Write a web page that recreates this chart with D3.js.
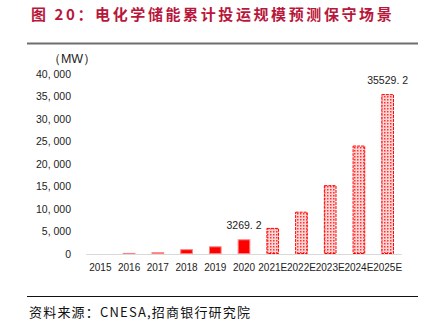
<!DOCTYPE html>
<html>
<head>
<meta charset="utf-8">
<script src="https://cdn.jsdelivr.net/npm/d3@7/dist/d3.min.js"></script>
<style>
  body { margin: 0; background: #fff; }
  svg { display: block; }
</style>
</head>
<body>
<svg id="chart" width="433" height="332"></svg>
<script>
// chart data
const years = ["2015", "2016", "2017", "2018", "2019", "2020", "2021E", "2022E", "2023E", "2024E", "2025E"];
const capacity = [105.5, 243, 389.8, 1072.7, 1709.6, 3269.2, 5800, 9400, 15300, 24100, 35529.2];
const forecast = [false, false, false, false, false, false, true, true, true, true, true];
const yTicks = [0, 5000, 10000, 15000, 20000, 25000, 30000, 35000, 40000];
const labelled = ["2020", "2025E"];

const svg = d3.select("#chart");
const red = "#ff0000";

// pattern for forecast bars
const defs = svg.append("defs");
const pat = defs.append("pattern")
  .attr("id", "dots")
  .attr("patternUnits", "userSpaceOnUse")
  .attr("width", 3)
  .attr("height", 3);
pat.append("rect").attr("width", 3).attr("height", 3).attr("fill", "#ffd6d6");
pat.append("rect").attr("width", 1.5).attr("height", 1.5).attr("fill", "#ff3030");

// title
svg.append("text")
  .attr("x", 31)
  .attr("y", 19.5)
  .attr("fill", "#b8173c")
  .style("font", "bold 15px 'Noto Sans CJK SC'")
  .style("letter-spacing", "2.6px")
  .text("图 20：电化学储能累计投运规模预测保守场景");

svg.append("line")
  .attr("x1", 27).attr("x2", 418)
  .attr("y1", 43.5).attr("y2", 43.5)
  .attr("stroke", "#6e6e6e")
  .attr("stroke-width", 2);

// scales
const x = d3.scaleBand()
  .domain(years)
  .range([86, 402])
  .paddingInner(0.56)
  .paddingOuter(0.28);

const y = d3.scaleLinear()
  .domain([0, 40000])
  .range([254, 74]);

// unit
svg.append("text")
  .attr("x", 72)
  .attr("y", 63)
  .attr("text-anchor", "middle")
  .attr("fill", "#222")
  .style("font", "12.5px 'Liberation Sans', Arial, sans-serif")
  .text("（MW）");

// y axis labels
svg.append("g")
  .selectAll("text")
  .data(yTicks)
  .join("text")
  .attr("x", 71)
  .attr("y", (d) => y(d))
  .attr("dy", "0.35em")
  .attr("text-anchor", "end")
  .attr("fill", "#222")
  .style("font", "10.5px 'Liberation Sans', Arial, sans-serif")
  .text((d) => d3.format(",")(d).replace(",", ", "));

// x axis line
svg.append("line")
  .attr("x1", 86).attr("x2", 402)
  .attr("y1", y(0) + 0.5).attr("y2", y(0) + 0.5)
  .attr("stroke", "#d9d9d9")
  .attr("stroke-width", 1);

// bars
svg.append("g")
  .selectAll("rect")
  .data(years)
  .join("rect")
  .attr("x", (d) => x(d) + 0.5)
  .attr("y", (d, i) => y(capacity[i]) + 0.5)
  .attr("width", x.bandwidth() - 1)
  .attr("height", (d, i) => Math.max(0, y(0) - y(capacity[i]) - 1))
  .attr("fill", (d, i) => (forecast[i] ? "url(#dots)" : red))
  .attr("stroke", (d, i) => (forecast[i] ? red : "#ff8080"))
  .attr("stroke-width", 1)
  .attr("stroke-dasharray", (d, i) => (forecast[i] ? "3,1" : null));

// x labels
svg.append("g")
  .selectAll("text")
  .data(years)
  .join("text")
  .attr("x", (d) => x(d) + x.bandwidth() / 2)
  .attr("y", 271)
  .attr("text-anchor", "middle")
  .attr("fill", "#222")
  .style("font", "10px 'Liberation Sans', Arial, sans-serif")
  .text((d) => d);

// value labels
svg.append("g")
  .selectAll("text")
  .data(labelled)
  .join("text")
  .attr("x", (d) => x(d) + x.bandwidth() / 2)
  .attr("y", (d) => y(capacity[years.indexOf(d)]) - 10)
  .attr("text-anchor", "middle")
  .attr("fill", "#222")
  .style("font", "10.5px 'Liberation Sans', Arial, sans-serif")
  .text((d) => String(capacity[years.indexOf(d)]).replace(".", ". "));

// bottom rule and source
svg.append("line")
  .attr("x1", 27).attr("x2", 418)
  .attr("y1", 296.5).attr("y2", 296.5)
  .attr("stroke", "#111")
  .attr("stroke-width", 1);

svg.append("text")
  .attr("x", 29)
  .attr("y", 317)
  .attr("fill", "#111")
  .style("font", "13px 'Noto Sans CJK SC'")
  .style("letter-spacing", "1.2px")
  .text("资料来源：CNESA,招商银行研究院");
</script>
</body>
</html>
